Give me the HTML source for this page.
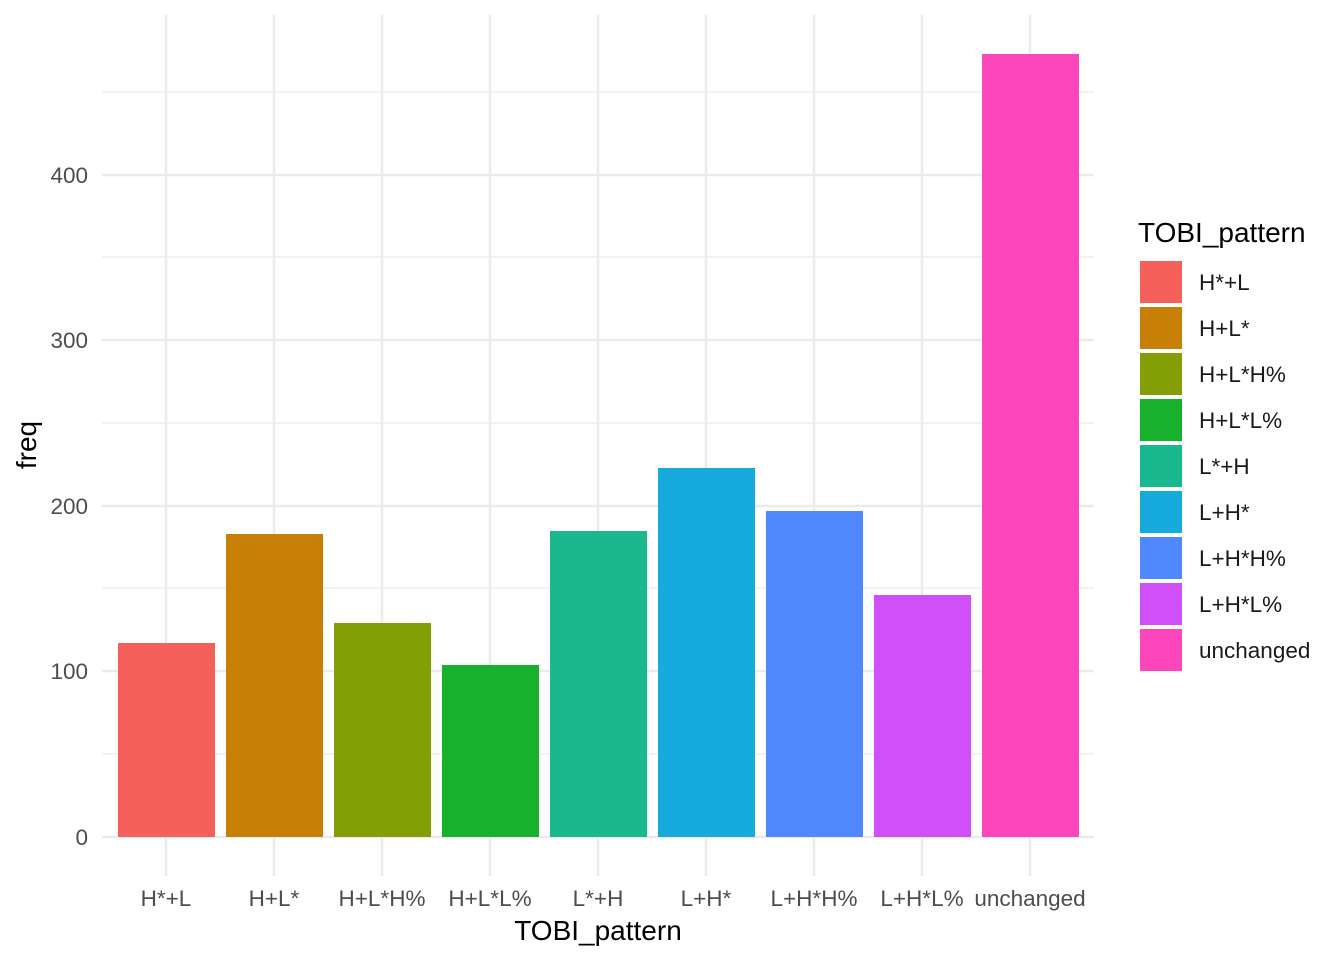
<!DOCTYPE html>
<html><head><meta charset="utf-8"><style>body{margin:0;background:#fff}svg{display:block}text{font-family:"Liberation Sans",Arial,sans-serif}</style></head>
<body>
<svg width="1344" height="960" viewBox="0 0 1344 960" xmlns="http://www.w3.org/2000/svg">
<g stroke="#ebebeb" stroke-width="1.2">
<line x1="102" x2="1094" y1="754" y2="754"/><line x1="102" x2="1094" y1="588" y2="588"/><line x1="102" x2="1094" y1="423" y2="423"/><line x1="102" x2="1094" y1="257" y2="257"/><line x1="102" x2="1094" y1="92" y2="92"/>
</g>
<g stroke="#ebebeb" stroke-width="2.4">
<line x1="102" x2="1094" y1="837" y2="837"/><line x1="102" x2="1094" y1="671" y2="671"/><line x1="102" x2="1094" y1="506" y2="506"/><line x1="102" x2="1094" y1="340" y2="340"/><line x1="102" x2="1094" y1="175" y2="175"/>
<line x1="166" x2="166" y1="15" y2="876"/><line x1="274" x2="274" y1="15" y2="876"/><line x1="382" x2="382" y1="15" y2="876"/><line x1="490" x2="490" y1="15" y2="876"/><line x1="598" x2="598" y1="15" y2="876"/><line x1="706" x2="706" y1="15" y2="876"/><line x1="814" x2="814" y1="15" y2="876"/><line x1="922" x2="922" y1="15" y2="876"/><line x1="1030" x2="1030" y1="15" y2="876"/>
</g>
<rect x="118" y="643" width="97" height="194" fill="#F5605A"/>
<rect x="226" y="534" width="97" height="303" fill="#C77F06"/>
<rect x="334" y="623" width="97" height="214" fill="#849E05"/>
<rect x="442" y="665" width="97" height="172" fill="#18B12E"/>
<rect x="550" y="531" width="97" height="306" fill="#19B88F"/>
<rect x="658" y="468" width="97" height="369" fill="#17ABDD"/>
<rect x="766" y="511" width="97" height="326" fill="#5088FF"/>
<rect x="874" y="595" width="97" height="242" fill="#CF50F8"/>
<rect x="982" y="54" width="97" height="783" fill="#FE46BC"/>
<g font-size="22.5" fill="#4d4d4d" text-anchor="end">
<text x="88" y="845">0</text><text x="88" y="679">100</text><text x="88" y="514">200</text><text x="88" y="348">300</text><text x="88" y="183">400</text>
</g>
<g font-size="22.5" fill="#4d4d4d" text-anchor="middle">
<text x="166" y="906">H*+L</text><text x="274" y="906">H+L*</text><text x="382" y="906">H+L*H%</text><text x="490" y="906">H+L*L%</text><text x="598" y="906">L*+H</text><text x="706" y="906">L+H*</text><text x="814" y="906">L+H*H%</text><text x="922" y="906">L+H*L%</text><text x="1030" y="906">unchanged</text>
</g>
<text x="598" y="940" font-size="28" text-anchor="middle" fill="#000">TOBI_pattern</text>
<text transform="translate(36,445) rotate(-90)" font-size="28" text-anchor="middle" fill="#000">freq</text>
<text x="1138" y="242" font-size="28" fill="#000">TOBI_pattern</text>
<g>
<rect x="1140" y="261" width="42" height="42" fill="#F5605A"/>
<rect x="1140" y="307" width="42" height="42" fill="#C77F06"/>
<rect x="1140" y="353" width="42" height="42" fill="#849E05"/>
<rect x="1140" y="399" width="42" height="42" fill="#18B12E"/>
<rect x="1140" y="445" width="42" height="42" fill="#19B88F"/>
<rect x="1140" y="491" width="42" height="42" fill="#17ABDD"/>
<rect x="1140" y="537" width="42" height="42" fill="#5088FF"/>
<rect x="1140" y="583" width="42" height="42" fill="#CF50F8"/>
<rect x="1140" y="629" width="42" height="42" fill="#FE46BC"/>
</g>
<g font-size="22.5" fill="#1a1a1a">
<text x="1199" y="290">H*+L</text><text x="1199" y="336">H+L*</text><text x="1199" y="382">H+L*H%</text><text x="1199" y="428">H+L*L%</text><text x="1199" y="474">L*+H</text><text x="1199" y="520">L+H*</text><text x="1199" y="566">L+H*H%</text><text x="1199" y="612">L+H*L%</text><text x="1199" y="658">unchanged</text>
</g>
</svg>
</body></html>
